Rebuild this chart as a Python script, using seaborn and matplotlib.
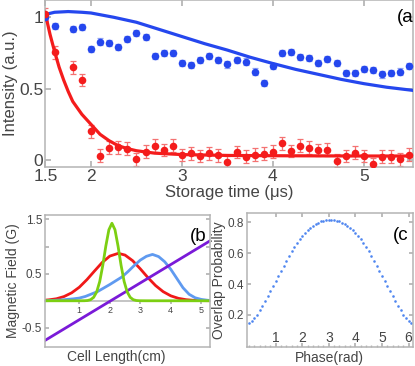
"""Three-panel storage / field / overlap figure."""
import matplotlib
matplotlib.use("Agg")
import matplotlib.pyplot as plt
import numpy as np
import seaborn as sns

# ---- panel (a): storage time data -------------------------------------------
t_blue = [1.5, 1.6, 1.8, 1.9, 2.0, 2.1, 2.2, 2.3, 2.4, 2.5, 2.6, 2.7, 2.8, 2.9,
          3.0, 3.1, 3.2, 3.3, 3.4, 3.5, 3.6, 3.7, 3.8, 3.9, 4.0, 4.1, 4.2, 4.3,
          4.4, 4.5, 4.6, 4.7, 4.8, 4.9, 5.0, 5.1, 5.2, 5.3, 5.4, 5.5]
i_blue = [1.0, 0.94, 0.92, 0.93, 0.78, 0.83, 0.82, 0.79, 0.85, 0.89, 0.86, 0.73,
          0.75, 0.75, 0.68, 0.665, 0.70, 0.73, 0.70, 0.67, 0.70, 0.69, 0.62, 0.54,
          0.66, 0.75, 0.755, 0.72, 0.715, 0.68, 0.71, 0.68, 0.61, 0.61, 0.64, 0.63,
          0.60, 0.61, 0.62, 0.66]
t_red = t_blue
i_red = [1.02, 0.755, 0.65, 0.56, 0.20, 0.03, 0.086, 0.09, 0.08, 0.005, 0.058, 0.10,
         0.07, 0.10, 0.035, 0.047, 0.028, 0.047, 0.033, -0.014, 0.056, 0.023, 0.037,
         0.044, 0.058, 0.116, 0.063, 0.10, 0.086, 0.07, 0.072, -0.005, 0.028, 0.051,
         0.028, -0.03, 0.023, 0.023, 0.005, 0.037]
err_blue = 0.022
err_red = 0.045

fit_t_blue = [1.5, 1.6, 1.75, 1.9, 2.0, 2.25, 2.5, 2.75, 3.0, 3.25, 3.5, 3.75,
              4.0, 4.25, 4.5, 4.75, 5.0, 5.25, 5.55]
fit_blue = [1.02, 1.035, 1.04, 1.035, 1.03, 1.0, 0.965, 0.915, 0.865, 0.815, 0.77,
            0.72, 0.676, 0.635, 0.60, 0.565, 0.535, 0.51, 0.487]
fit_t_red = [1.5, 1.55, 1.6, 1.65, 1.7, 1.75, 1.8, 1.9, 2.0, 2.1, 2.2, 2.3, 2.4,
             2.5, 2.7, 3.0, 3.5, 4.0, 5.0, 5.55]
fit_red = [1.02, 0.88, 0.76, 0.65, 0.56, 0.48, 0.41, 0.32, 0.25, 0.18, 0.135, 0.10,
           0.08, 0.065, 0.048, 0.038, 0.032, 0.03, 0.028, 0.028]

# ---- panel (b): field profiles ----------------------------------------------
cell_red = [-0.15, 0.0, 0.25, 0.5, 0.75, 1.0, 1.25, 1.5, 1.75, 2.0, 2.28, 2.5,
            2.75, 3.0, 3.25, 3.5, 3.75, 4.0, 4.25, 4.5, 4.75, 5.0, 5.3]
field_red = [0.01, 0.017, 0.037, 0.078, 0.147, 0.25, 0.39, 0.55, 0.706, 0.824,
             0.875, 0.843, 0.739, 0.589, 0.427, 0.281, 0.168, 0.091, 0.045, 0.02,
             0.008, 0.003, 0.001]
cell_blue = [-0.15, 0.0, 0.4, 0.8, 1.0, 1.2, 1.4, 1.6, 1.8, 2.0, 2.2, 2.4, 2.6,
             2.8, 3.0, 3.2, 3.4, 3.6, 3.8, 4.0, 4.2, 4.4, 4.6, 4.8, 5.0, 5.2, 5.3]
field_blue = [0.0, 0.003, 0.015, 0.035, 0.05, 0.08, 0.125, 0.17, 0.235, 0.30,
              0.37, 0.44, 0.54, 0.65, 0.75, 0.82, 0.855, 0.815, 0.72, 0.58, 0.41,
              0.24, 0.12, 0.055, 0.025, 0.01, 0.005]
cell_green = [-0.15, 1.0, 1.17, 1.27, 1.37, 1.47, 1.57, 1.67, 1.77, 1.87, 1.97,
              2.07, 2.17, 2.27, 2.37, 2.47, 2.57, 2.67, 2.77, 2.87, 2.97, 3.2, 5.3]
field_green = [0.0, 0.0, 0.001, 0.005, 0.02, 0.063, 0.163, 0.356, 0.653, 1.01,
               1.31, 1.43, 1.31, 1.01, 0.653, 0.356, 0.163, 0.063, 0.02, 0.005,
               0.001, 0.0, 0.0]
cell_purple = [-0.15, 5.3]
field_purple = [-0.74, 1.11]

# ---- panel (c): overlap vs phase --------------------------------------------
phase = [round(0.1 * k, 1) for k in range(62)]
overlap = [0.146, 0.163, 0.182, 0.203, 0.229, 0.258, 0.288, 0.320, 0.352, 0.387,
           0.420, 0.453, 0.486, 0.518, 0.550, 0.582, 0.612, 0.641, 0.667, 0.691,
           0.713, 0.732, 0.749, 0.764, 0.777, 0.788, 0.797, 0.804, 0.810, 0.813,
           0.815, 0.815, 0.813, 0.810, 0.804, 0.797, 0.788, 0.777, 0.764, 0.749,
           0.732, 0.713, 0.691, 0.667, 0.641, 0.612, 0.582, 0.550, 0.518, 0.486,
           0.453, 0.420, 0.387, 0.352, 0.320, 0.288, 0.258, 0.229, 0.203, 0.182,
           0.163, 0.146]

BLUE = "#2547ee"
RED = "#f41c1c"
SPINE = "#b4b4b4"
TXT = "#454545"

sns.set_theme(style="ticks")
plt.rcParams.update({
    "font.family": ["Liberation Sans", "DejaVu Sans"],
    "axes.edgecolor": SPINE,
    "axes.linewidth": 1.1,
    "xtick.color": SPINE,
    "ytick.color": SPINE,
    "xtick.labelcolor": TXT,
    "ytick.labelcolor": TXT,
    "axes.labelcolor": TXT,
})

fig = plt.figure(figsize=(4.15, 3.66), dpi=100)

# ---------------- (a) ----------------
ax = fig.add_axes([0.1096, 0.5445, 0.8855, 0.4555])
ax.errorbar(t_red, i_red, yerr=err_red, fmt="none", ecolor="#f47272",
            elinewidth=0.9, capsize=2.5, capthick=0.9, zorder=2)
ax.errorbar(t_blue, i_blue, yerr=err_blue, fmt="none", ecolor="#93a4f2",
            elinewidth=0.9, capsize=2.5, capthick=0.9, zorder=2)
sns.lineplot(x=fit_t_blue, y=fit_blue, color=BLUE, lw=2.3, ax=ax, zorder=3)
sns.lineplot(x=fit_t_red, y=fit_red, color=RED, lw=2.3, ax=ax, zorder=3)
sns.scatterplot(x=t_blue, y=i_blue, color=BLUE, s=30, linewidth=0, ax=ax, zorder=4)
sns.scatterplot(x=t_red, y=i_red, color=RED, s=30, linewidth=0, ax=ax, zorder=4)
ax.set_xlim(1.5, 5.54)
ax.set_ylim(-0.047, 1.121)
ax.set_xticks([1.5, 2, 3, 4, 5])
ax.set_xticklabels(["1.5", "2", "3", "4", "5"])
ax.set_yticks([0, 0.5, 1])
ax.set_yticklabels(["0", "0.5", "1"])
ax.tick_params(direction="in", top=True, right=True, length=4, labelsize=12.5, pad=1.5)
ax.set_xlabel("Storage time (μs)", fontsize=12, labelpad=1)
ax.set_ylabel("Intensity (a.u.)", fontsize=12, labelpad=1)
ax.text(0.955, 0.87, "(a", transform=ax.transAxes, fontsize=13.5, color="black")

# ---------------- (b) ----------------
ax = fig.add_axes([0.1084, 0.052, 0.3976, 0.3607])
sns.lineplot(x=cell_red, y=field_red, color="#f01818", lw=2.0, ax=ax)
sns.lineplot(x=cell_blue, y=field_blue, color="#5f9af0", lw=2.0, ax=ax)
sns.lineplot(x=cell_purple, y=field_purple, color="#7a1ad8", lw=2.0, ax=ax)
sns.lineplot(x=cell_green, y=field_green, color="#7ccf12", lw=2.0, ax=ax)
ax.set_xlim(-0.125, 5.285)
ax.set_ylim(-0.852, 1.583)
ax.set_xticks([])
ax.set_yticks([-0.5, 0, 0.5, 1.0, 1.5])
ax.set_yticklabels(["-0.5", "", "0.5", "", "1.5"])
ax.tick_params(axis="y", direction="in", right=True, length=3, labelsize=8.5, pad=2)
zero_axis = ax.secondary_xaxis(0.852 / 2.435)
zero_axis.set_xticks([1, 2, 3, 4, 5])
zero_axis.tick_params(direction="out", length=2, labelsize=6.5, pad=1.5)
zero_axis.spines["bottom"].set_color(SPINE)
ax.set_ylabel("Magnetic Field (G)", fontsize=10, labelpad=1)
ax.set_xlabel("Cell Length(cm)", fontsize=10)
ax.xaxis.set_label_coords(0.43, -0.02)
ax.text(0.88, 0.80, "(b", transform=ax.transAxes, fontsize=13.5, color="black")

# ---------------- (c) ----------------
ax = fig.add_axes([0.5945, 0.0527, 0.4007, 0.365])
sns.scatterplot(x=phase, y=overlap, color="#4f86f0", s=3.5, linewidth=0, ax=ax)
ax.set_xlim(-0.086, 6.165)
ax.set_ylim(-0.005, 0.858)
ax.set_xticks([1, 2, 3, 4, 5, 6])
ax.set_xticks(np.arange(0, 6.2, 0.2), minor=True)
ax.set_yticks([0.2, 0.4, 0.6, 0.8])
ax.tick_params(axis="x", which="major", direction="in", top=True, length=3,
               labelsize=10, pad=-11)
ax.tick_params(axis="x", which="minor", direction="in", length=1.5, top=False)
ax.tick_params(axis="y", direction="in", right=True, length=3, labelsize=8.5, pad=2)
ax.set_xlabel("Phase(rad)", fontsize=10, labelpad=0)
ax.set_ylabel("Overlap Probability", fontsize=10, labelpad=1)
ax.text(0.88, 0.80, "(c", transform=ax.transAxes, fontsize=13.5, color="black")

fig.savefig("out.png", dpi=100)
